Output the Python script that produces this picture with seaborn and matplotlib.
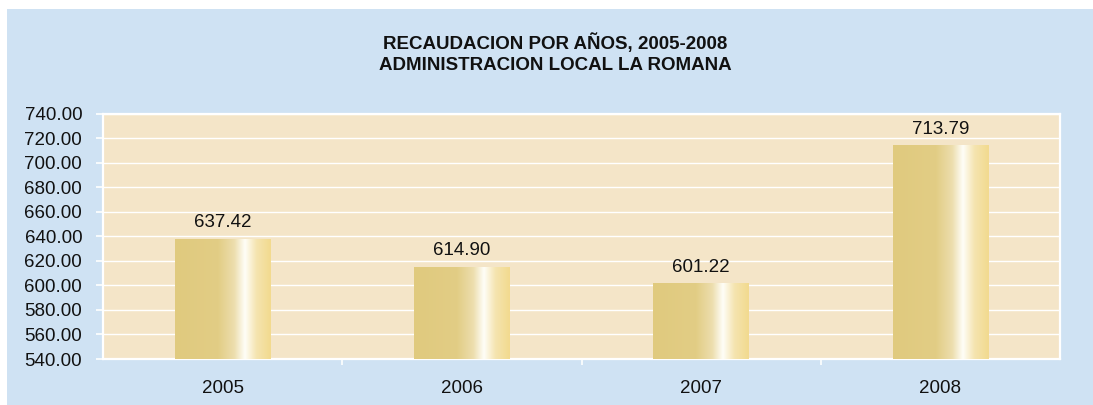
import numpy as np
import pandas as pd
import matplotlib
matplotlib.use("Agg")
import matplotlib.pyplot as plt
from matplotlib.colors import LinearSegmentedColormap
from matplotlib.patches import Rectangle
import seaborn as sns

# Recaudación anual (millones)
years = ["2005", "2006", "2007", "2008"]
values = [637.42, 614.90, 601.22, 713.79]
y_ticks = [540, 560, 580, 600, 620, 640, 660, 680, 700, 720, 740]

BG_BLUE = "#CFE2F3"
PLOT_BG = "#F4E5C8"
FS = 13.5

sns.set_theme(style="white")
plt.rcParams["font.family"] = ["Liberation Sans", "DejaVu Sans"]

fig = plt.figure(figsize=(10.93, 4.05), dpi=100, facecolor="white")
fig.patches.append(Rectangle((7 / 1093, 0), 1 - 7 / 1093, 1 - 9 / 405,
                             transform=fig.transFigure, facecolor=BG_BLUE,
                             edgecolor="none", zorder=-10))

ax = fig.add_axes([103 / 1093, 46 / 405, 957 / 1093, 245.5 / 405])
ax.set_facecolor(PLOT_BG)

df = pd.DataFrame({"year": years, "value": values})
sns.barplot(data=df, x="year", y="value", ax=ax, width=0.40,
            color="#E0CA7E", saturation=1, edgecolor="none", zorder=2)

ymin, ymax = y_ticks[0], y_ticks[-1]

# Cylinder-like shading on each bar
cyl = LinearSegmentedColormap.from_list("cyl", [
    (0.00, "#E0CA7E"), (0.45, "#E2CD85"), (0.62, "#EDDEAE"),
    (0.73, "#FFFEF8"), (0.85, "#F5E4B0"), (1.00, "#F2DA8E")])
grad = np.linspace(0, 1, 256).reshape(1, -1)
for patch, v in zip(ax.patches, values):
    x0 = patch.get_x()
    w = patch.get_width()
    patch.set_visible(False)
    ax.imshow(grad, cmap=cyl, aspect="auto", interpolation="bicubic",
              extent=[x0, x0 + w, ymin, v], zorder=3)
    ax.text(x0 + w / 2, v + 6.5, f"{v:.2f}", ha="center", va="bottom",
            fontsize=FS, color="#111111", zorder=4)

ax.set_xlim(-0.5, len(years) - 0.5)
ax.set_ylim(ymin, ymax)

ax.set_yticks(y_ticks)
ax.set_yticklabels([f"{t:.2f}" for t in y_ticks], fontsize=FS, color="#111111")
ax.yaxis.grid(True, color="white", linewidth=1.0, zorder=1)
ax.set_axisbelow(True)

ax.set_xticks(range(len(years)))
ax.set_xticklabels(years, fontsize=FS, color="#111111")
ax.set_xticks(np.arange(0.5, len(years) - 1, 1.0), minor=True)
ax.tick_params(axis="x", which="major", length=0, pad=15)
ax.tick_params(axis="x", which="minor", length=4, width=1.2, color="white",
               direction="out", bottom=True)
ax.tick_params(axis="y", length=5, width=1.2, color="white", direction="out",
               pad=10, left=True)

for s in ax.spines.values():
    s.set_visible(True)
    s.set_color("white")
    s.set_linewidth(1.6)

ax.set_xlabel("")
ax.set_ylabel("")

fig.text(0.508, 1 - 43 / 405, "RECAUDACION POR AÑOS, 2005-2008",
         ha="center", va="center", fontsize=FS, fontweight="bold", color="#111111")
fig.text(0.508, 1 - 66 / 405, "ADMINISTRACION LOCAL LA ROMANA",
         ha="center", va="center", fontsize=FS, fontweight="bold", color="#111111")

fig.savefig("out.png", dpi=100, facecolor=fig.get_facecolor())
